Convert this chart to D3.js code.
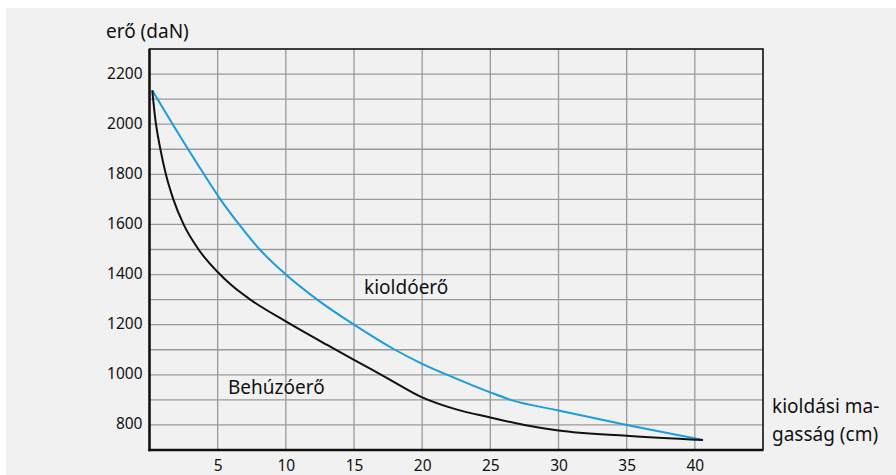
<!DOCTYPE html>
<html><head><meta charset="utf-8">
<script src="https://cdn.jsdelivr.net/npm/d3@7"></script>
<style>
html,body{margin:0;padding:0;background:#fff;}
svg{display:block;}
text{font-family:"Noto Sans",sans-serif;fill:#111;}
</style></head>
<body>
<svg id="c" width="896" height="475"></svg>
<script>
// Data
const kioldoX = [0.2, 1.7, 4, 5.2, 6.5, 8, 10, 12.3, 15, 18, 20, 22.5, 25, 26.5, 30, 35, 40.6];
const kioldoY = [2135, 2000, 1800, 1700, 1605, 1505, 1400, 1300, 1200, 1100, 1044, 985, 930, 900, 858, 800, 740];
const behuzoX = [0.2, 0.45, 0.8, 1.2, 1.75, 2.5, 3.6, 5, 6, 7.4, 10, 13, 15, 17.5, 20, 22.5, 25, 27.5, 30, 35, 40.6];
const behuzoY = [2135, 2010, 1900, 1800, 1700, 1600, 1500, 1410, 1358, 1300, 1213, 1120, 1060, 985, 910, 862, 830, 800, 778, 757, 740];
const xTicks = [5, 10, 15, 20, 25, 30, 35, 40];
const yTicks = [800, 1000, 1200, 1400, 1600, 1800, 2000, 2200];
const yGrid = [800, 900, 1000, 1100, 1200, 1300, 1400, 1500, 1600, 1700, 1800, 1900, 2000, 2100, 2200];

const svg = d3.select("#c");
svg.append("rect").attr("x",6).attr("y",8).attr("width",890).attr("height",467).attr("fill","#f1f1f1");

const L=149.5, R=763, T=49, B=450;
const x = d3.scaleLinear().domain([0,45]).range([L,R]);
const y = d3.scaleLinear().domain([700,2300]).range([B,T]);

const g = svg.append("g");
g.selectAll(".vg").data(xTicks).join("line")
 .attr("x1",d=>x(d)).attr("x2",d=>x(d)).attr("y1",T).attr("y2",B)
 .attr("stroke","#9a9a9a").attr("stroke-width",1.3);
g.selectAll(".hg").data(yGrid).join("line")
 .attr("x1",L).attr("x2",R).attr("y1",d=>y(d)).attr("y2",d=>y(d))
 .attr("stroke","#9a9a9a").attr("stroke-width",1.3);

g.append("rect").attr("x",L).attr("y",T).attr("width",R-L).attr("height",B-T)
 .attr("fill","none").attr("stroke","#111").attr("stroke-width",1.6);
g.append("line").attr("x1",L).attr("x2",L).attr("y1",T).attr("y2",B+1.2).attr("stroke","#111").attr("stroke-width",2.4);
g.append("line").attr("x1",L-1.2).attr("x2",R).attr("y1",B).attr("y2",B).attr("stroke","#111").attr("stroke-width",2.4);

const fmt = d3.format("d");
const xAxis = d3.axisBottom(x).tickValues(xTicks).tickFormat(fmt).tickSize(0).tickPadding(0);
const xa = svg.append("g").attr("transform",`translate(0,${B})`).call(xAxis);
xa.select(".domain").remove();
xa.selectAll("text").attr("y",21).attr("dy",0).style("font-size","15.5px").style("font-family","'Noto Sans',sans-serif").attr("fill","#111");

const yAxis = d3.axisLeft(y).tickValues(yTicks).tickFormat(fmt).tickSize(0).tickPadding(0);
const ya = svg.append("g").attr("transform",`translate(${L-7},0)`).call(yAxis);
ya.select(".domain").remove();
ya.selectAll("text").attr("x",0).attr("dy","0.26em").style("font-size","15.5px").style("font-family","'Noto Sans',sans-serif").attr("fill","#111");

const line = d3.line().x(d=>x(d[0])).y(d=>y(d[1])).curve(d3.curveMonotoneX);
svg.append("path").datum(kioldoX.map((v,i)=>[v,kioldoY[i]]))
 .attr("d",line).attr("fill","none").attr("stroke","#1a9ddc").attr("stroke-width",2);
svg.append("path").datum(behuzoX.map((v,i)=>[v,behuzoY[i]]))
 .attr("d",line).attr("fill","none").attr("stroke","#111").attr("stroke-width",2);

svg.append("text").attr("x",106).attr("y",38).style("font-size","19px").text("erő (daN)");
svg.append("text").attr("x",364).attr("y",294).style("font-size","19px").text("kioldóerő");
svg.append("text").attr("x",228).attr("y",394).style("font-size","19px").text("Behúzóerő");
svg.append("text").attr("x",772).attr("y",413).style("font-size","19px").text("kioldási ma-");
svg.append("text").attr("x",772).attr("y",441).style("font-size","19px").text("gasság (cm)");
</script>
</body></html>
